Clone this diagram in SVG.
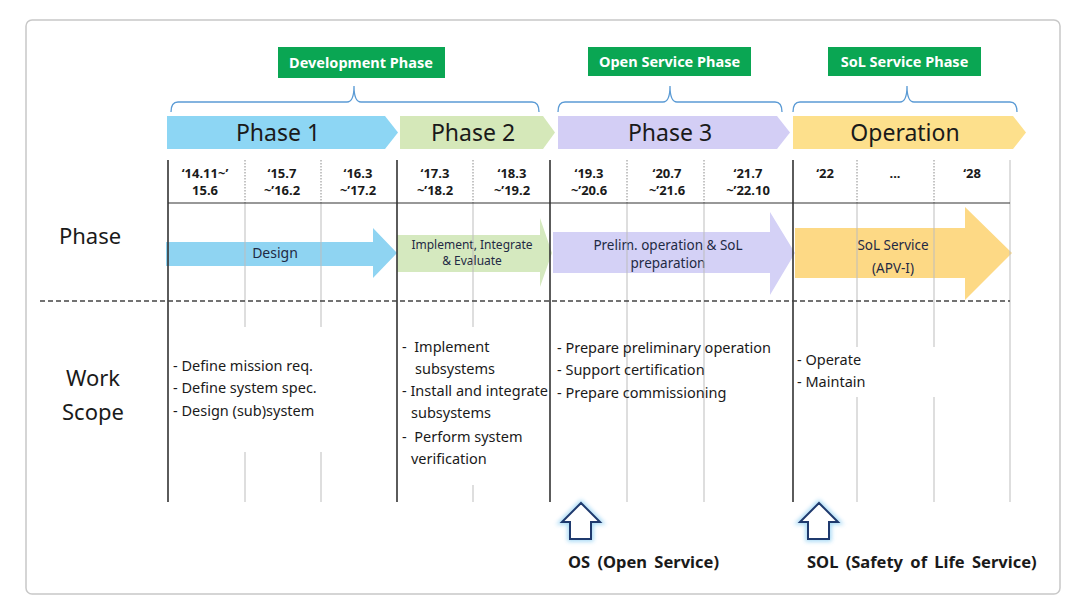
<svg xmlns="http://www.w3.org/2000/svg" width="1084" height="610" viewBox="0 0 1084 610">
<style>
text{font-family:"Noto Sans","Liberation Sans",sans-serif;fill:#1a1a1a}
.hdr{font-size:23px;text-anchor:middle}
.tag{font-size:14.5px;font-weight:bold;fill:#ffffff;text-anchor:middle}
.tagbox{fill:#0aa653}
.brace{fill:none;stroke:#5b9bd5;stroke-width:1.3}
.date{font-size:13px;font-weight:bold;text-anchor:middle}
.big{font-size:13.5px;text-anchor:middle;fill:#1f2a44}
.lbl{font-size:22px;text-anchor:middle}
.ws{font-size:14.5px}
.dark{stroke:#333;stroke-width:1.6}
.light{stroke:#bdbdbd;stroke-width:1}
.dot{stroke:#8a8a8a;stroke-width:1;stroke-dasharray:1.5,1.5}
.up{fill:#fff;stroke:#1f3a6e;stroke-width:2;stroke-linejoin:miter}
.glow{fill:none;stroke:#7cc7f0;stroke-width:5;opacity:0.7}
.foot{font-size:16.5px;font-weight:bold;word-spacing:3px}
</style>
<defs>
<filter id="blur" x="-30%" y="-30%" width="160%" height="160%"><feGaussianBlur stdDeviation="2"/></filter>
</defs>
<rect x="26" y="20" width="1034" height="574" rx="6" fill="#fff" stroke="#c8c8c8" stroke-width="1.5"/>

<g id="phase-header-arrows">
<g id="phase1"><path d="M167,116 H385 L398,132.5 L385,149 H167 Z" fill="#8dd6f4"/><text class="hdr" x="278" y="141">Phase 1</text></g>
<g id="phase2"><path d="M400,116 H543 L555,132.5 L543,149 H400 Z" fill="#d5e8b9"/><text class="hdr" x="473" y="141">Phase 2</text></g>
<g id="phase3"><path d="M558,116 H777 L790,132.5 L777,149 H558 Z" fill="#d3cef5"/><text class="hdr" x="670" y="141">Phase 3</text></g>
<g id="operation"><path d="M793,116 H1013 L1026,132.5 L1013,149 H793 Z" fill="#fde08c"/><text class="hdr" x="905" y="141">Operation</text></g>
</g>

<g id="tags">
<g id="dev-phase"><rect class="tagbox" x="278" y="47" width="167" height="31"/><text class="tag" x="361" y="68">Development Phase</text></g>
<g id="open-phase"><rect class="tagbox" x="588" y="47" width="163" height="29"/><text class="tag" x="669.5" y="67">Open Service Phase</text></g>
<g id="sol-phase"><rect class="tagbox" x="828" y="47" width="153" height="29"/><text class="tag" x="904.5" y="67">SoL Service Phase</text></g>
</g>

<g id="big-arrows">
<g id="design"><path d="M166,242 H373 V228 L397,253 L373,278 V266 H166 Z" fill="#8fd4f2"/><text class="big" x="275" y="258" style="font-size:14px">Design</text></g>
<g id="implement"><path d="M397,235 H540 V218 L552,253 L540,287 V272 H397 Z" fill="#d5e9bf"/><text class="big" x="472" y="249" style="font-size:12px">Implement, Integrate</text><text class="big" x="472" y="265" style="font-size:12px">&amp; Evaluate</text></g>
<g id="prelim"><path d="M553,232 H770 V212 L795,253 L770,295 V273 H553 Z" fill="#d4d1f6"/><text class="big" x="668" y="250">Prelim. operation &amp; SoL</text><text class="big" x="668" y="268">preparation</text></g>
<g id="sol-service"><path d="M795,228 H965 V207 L1012,253 L965,300 V278 H795 Z" fill="#fdd985"/><text class="big" x="893" y="250">SoL Service</text><text class="big" x="893" y="273">(APV-I)</text></g>
</g>

<g id="grid">
<line class="dot" x1="245" y1="160" x2="245" y2="203"/>
<line class="dot" x1="321" y1="160" x2="321" y2="203"/>
<line class="dot" x1="473" y1="160" x2="473" y2="203"/>
<line class="dot" x1="627" y1="160" x2="627" y2="203"/>
<line class="dot" x1="704" y1="160" x2="704" y2="203"/>
<line class="dot" x1="857" y1="160" x2="857" y2="203"/>
<line class="dot" x1="934" y1="160" x2="934" y2="203"/>
<line class="light" x1="1010" y1="160" x2="1010" y2="203"/>
<line class="light" x1="245" y1="203" x2="245" y2="502"/>
<line class="light" x1="321" y1="203" x2="321" y2="502"/>
<line class="light" x1="473" y1="203" x2="473" y2="502"/>
<line class="light" x1="627" y1="203" x2="627" y2="502"/>
<line class="light" x1="704" y1="203" x2="704" y2="502"/>
<line class="light" x1="857" y1="203" x2="857" y2="502"/>
<line class="light" x1="934" y1="203" x2="934" y2="502"/>
<line class="light" x1="1010" y1="203" x2="1010" y2="502"/>
<line class="dark" x1="168" y1="160" x2="168" y2="502"/>
<line class="dark" x1="397" y1="160" x2="397" y2="502"/>
<line class="dark" x1="550" y1="160" x2="550" y2="502"/>
<line class="dark" x1="793" y1="160" x2="793" y2="502"/>
<line x1="168" y1="203" x2="1010" y2="203" stroke="#333" stroke-width="1.2"/>
<line x1="40" y1="301" x2="1010" y2="301" stroke="#444" stroke-width="1.4" stroke-dasharray="5,3"/>
</g>

<g id="connectors">
<path class="brace" d="M171,112 Q171,102 178,102 H347 Q354,102 354,86 Q354,102 361,102 H532 Q539,102 539,112"/>
<path class="brace" d="M558,112 Q558,102 565,102 H663 Q670,102 670,86 Q670,102 677,102 H775 Q782,102 782,112"/>
<path class="brace" d="M793,112 Q793,102 800,102 H900 Q907,102 907,86 Q907,102 914,102 H1010 Q1017,102 1017,112"/>
</g>

<g id="dates">
<text class="date" x="205" y="178">‘14.11~’</text><text class="date" x="205" y="195">15.6</text>
<text class="date" x="282" y="178">‘15.7</text><text class="date" x="282" y="195">~’16.2</text>
<text class="date" x="358" y="178">‘16.3</text><text class="date" x="358" y="195">~’17.2</text>
<text class="date" x="435" y="178">‘17.3</text><text class="date" x="435" y="195">~’18.2</text>
<text class="date" x="512" y="178">‘18.3</text><text class="date" x="512" y="195">~’19.2</text>
<text class="date" x="589" y="178">‘19.3</text><text class="date" x="589" y="195">~’20.6</text>
<text class="date" x="667" y="178">‘20.7</text><text class="date" x="667" y="195">~’21.6</text>
<text class="date" x="748" y="178">‘21.7</text><text class="date" x="748" y="195">~’22.10</text>
<text class="date" x="825" y="178">‘22</text>
<text class="date" x="895" y="178">...</text>
<text class="date" x="972" y="178">‘28</text>
</g>

<g id="row-labels">
<text class="lbl" x="90" y="244">Phase</text>
<text class="lbl" x="93" y="386">Work</text>
<text class="lbl" x="93" y="420">Scope</text>
</g>

<g id="work-scope">
<g id="ws1"><rect x="170" y="327" width="225" height="125" fill="#fff"/>
<text class="ws" x="173" y="371">- Define mission req.</text>
<text class="ws" x="173" y="393">- Define system spec.</text>
<text class="ws" x="173" y="416">- Design (sub)system</text></g>
<g id="ws2"><rect x="399" y="327" width="149" height="158" fill="#fff"/>
<text class="ws" x="402" y="352" style="white-space:pre">-  Implement</text>
<text class="ws" x="415" y="374">subsystems</text>
<text class="ws" x="402" y="396">- Install and integrate</text>
<text class="ws" x="411" y="418">subsystems</text>
<text class="ws" x="402" y="442" style="white-space:pre">-  Perform system</text>
<text class="ws" x="411" y="464">verification</text></g>
<g id="ws3">
<text class="ws" x="557" y="353">- Prepare preliminary operation</text>
<text class="ws" x="557" y="375">- Support certification</text>
<text class="ws" x="557" y="398">- Prepare commissioning</text></g>
<g id="ws4"><rect x="796" y="347" width="212" height="50" fill="#fff"/>
<text class="ws" x="797" y="365">- Operate</text>
<text class="ws" x="797" y="387">- Maintain</text></g>
</g>

<g id="os-marker">
<path class="glow" filter="url(#blur)" d="M581,503 L600,522 H591 V539 H570 V522 H562 Z"/>
<path class="up" d="M581,503 L600,522 H591 V539 H570 V522 H562 Z"/>
<text class="foot" x="568" y="568">OS (Open Service)</text>
</g>
<g id="sol-marker">
<path class="glow" filter="url(#blur)" d="M819,503 L838,522 H829 V539 H808 V522 H800 Z"/>
<path class="up" d="M819,503 L838,522 H829 V539 H808 V522 H800 Z"/>
<text class="foot" x="807" y="568">SOL (Safety of Life Service)</text>
</g>
</svg>
